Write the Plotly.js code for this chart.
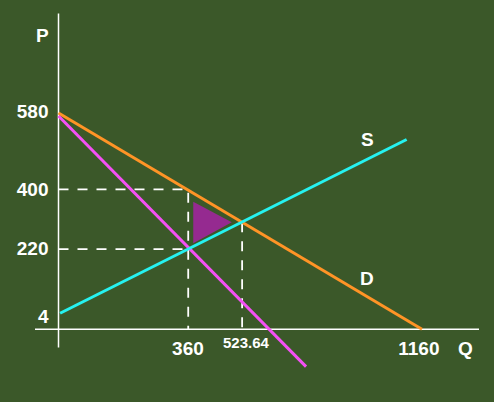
<!DOCTYPE html>
<html>
<head>
<meta charset="utf-8">
<script src="https://cdn.plot.ly/plotly-3.0.1.min.js"></script>
<style>
html,body{margin:0;padding:0;background:#3b5829;overflow:hidden;}
#chart{width:494px;height:402px;}
</style>
</head>
<body>
<div id="chart"></div>
<script>
// The sketch is schematic (not to scale): positions are read off the drawn axes.
// Demand (D)
const demandQ = [0, 1160];
const demandP = [580, 0];
// Supply (S)
const supplyQ = [5, 1111];
const supplyP = [43, 509];
// Marginal revenue (IMg)
const imgQ = [0, 790];
const imgP = [572, -100];
// Shaded triangle (deadweight loss)
const dwlQ = [430, 430, 553, 430];
const dwlP = [342, 231, 287, 342];
// Dashed guide lines: monopoly price 400 and 220, quantities 360 and 523.64
const guide400Q = [0, 414, 414];
const guide400P = [375, 375, 0];
const guide220Q = [0, 414];
const guide220P = [215, 215];
const guideCQ = [586, 586];
const guideCP = [287, 0];
// Tick labels and their positions along the drawn axes
const qTickPos = [413, 1150];
const qTickText = ['360', '1160'];
const pTickPos = [585, 376, 216, 36];
const pTickText = ['580', '400', '220', '4'];
const qEqPos = 600;
const qEqText = '523.64';

const FONT = 'Arial, "Liberation Sans", sans-serif';
const BG = '#3b5829';
const white = '#ffffff';

const guideStyle = {color: white, width: 1.8, dash: '10px,9px'};

const traces = [
  {x: guide400Q, y: guide400P, mode: 'lines', line: guideStyle, hoverinfo: 'skip'},
  {x: guide220Q, y: guide220P, mode: 'lines', line: guideStyle, hoverinfo: 'skip'},
  {x: guideCQ, y: guideCP, mode: 'lines', line: guideStyle, hoverinfo: 'skip'},
  {x: dwlQ, y: dwlP, mode: 'lines', fill: 'toself', fillcolor: '#952a90', line: {width: 0, color: '#952a90'}, hoverinfo: 'skip'},
  {x: demandQ, y: demandP, mode: 'lines', line: {color: '#ff9426', width: 3}, hoverinfo: 'skip'},
  {x: imgQ, y: imgP, mode: 'lines', line: {color: '#f450f4', width: 3}, hoverinfo: 'skip'},
  {x: supplyQ, y: supplyP, mode: 'lines', line: {color: '#26f2f0', width: 3}, hoverinfo: 'skip'}
];

const labelFont = {family: FONT, size: 19, color: white, weight: 'bold'};

const layout = {
  width: 494,
  height: 402,
  margin: {l: 35, r: 15, t: 13, b: 30, pad: 0},
  paper_bgcolor: BG,
  plot_bgcolor: BG,
  showlegend: false,
  xaxis: {
    range: [-75, 1342],
    anchor: 'free',
    position: 0.1189,
    showgrid: false,
    zeroline: false,
    showline: false,
    ticks: '',
    tickmode: 'array',
    tickvals: qTickPos,
    ticktext: qTickText,
    tickfont: labelFont,
    ticklabelstandoff: 6,
    fixedrange: true
  },
  yaxis: {
    range: [-114.5, 848.2],
    anchor: 'free',
    position: 0.0529,
    showgrid: false,
    zeroline: false,
    showline: false,
    ticks: '',
    tickmode: 'array',
    tickvals: pTickPos,
    ticktext: pTickText,
    tickfont: labelFont,
    ticklabelstandoff: 10,
    fixedrange: true
  },
  shapes: [
    {type: 'line', xref: 'paper', yref: 'y', x0: 0, x1: 1, y0: 0, y1: 0, line: {color: white, width: 1.5}, layer: 'below'},
    {type: 'line', xref: 'x', yref: 'y', x0: 0, x1: 0, y0: -49, y1: 847, line: {color: white, width: 1.5}, layer: 'below'}
  ],
  annotations: [
    {x: qEqPos, y: 0, xref: 'x', yref: 'y', text: qEqText, showarrow: false, xanchor: 'center', yanchor: 'top', yshift: -3, font: {family: FONT, size: 15, color: white, weight: 'bold'}},
    {x: -51, y: 788, xref: 'x', yref: 'y', text: 'P', showarrow: false, xanchor: 'center', yanchor: 'middle', font: labelFont},
    {x: 1300, y: -52, xref: 'x', yref: 'y', text: 'Q', showarrow: false, xanchor: 'center', yanchor: 'middle', font: labelFont},
    {x: 987, y: 508, xref: 'x', yref: 'y', text: 'S', showarrow: false, xanchor: 'center', yanchor: 'middle', font: labelFont},
    {x: 985, y: 135, xref: 'x', yref: 'y', text: 'D', showarrow: false, xanchor: 'center', yanchor: 'middle', font: labelFont},
    {x: 803, y: -136, xref: 'x', yref: 'y', text: 'IMg', showarrow: false, xanchor: 'center', yanchor: 'middle', font: labelFont}
  ]
};

Plotly.newPlot('chart', traces, layout, {displayModeBar: false, staticPlot: true});
</script>
</body>
</html>
